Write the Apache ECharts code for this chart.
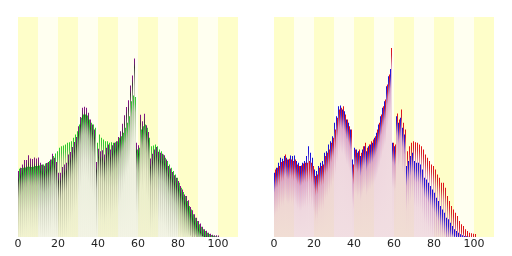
<!DOCTYPE html>
<html><head><meta charset="utf-8">
<script src="https://cdn.jsdelivr.net/npm/echarts@6/dist/echarts.min.js"></script>
<style>html,body{margin:0;padding:0;background:#fff}#c{width:512px;height:256px}</style>
</head><body><div id="c"></div>
<script>
// Ages 0..100 (one value per age)
const male = [193,208,223,238,235,243,238,233,245,243,
245,228,223,213,223,228,243,273,253,238,
203,198,213,223,228,253,258,278,288,303,
343,363,393,395,383,378,353,343,323,233,
268,263,258,243,263,273,258,273,278,283,
298,313,338,363,388,408,453,483,505,283,
273,363,343,358,328,308,213,228,243,253,
228,223,223,218,203,178,173,163,153,143,
133,118,108,93,83,73,58,53,43,33,
23,18,13,8,5,3,2,1,0,0,0];
const female = [203,208,213,225,228,248,233,235,233,228,
233,218,213,215,221,223,223,228,223,213,
183,188,208,213,218,243,253,263,283,298,
323,358,383,388,393,368,353,333,323,218,
263,253,263,253,273,283,268,278,288,293,
303,323,343,368,393,413,458,488,568,283,
278,371,353,383,343,323,258,273,283,288,
285,283,278,273,263,248,238,228,218,213,
203,188,178,163,163,148,123,108,93,83,
73,63,48,38,33,23,18,13,11,10,9];
// national profile scaled to the municipality total
const national = [410,414,416,418,422,422,420,422,426,426,
430,434,436,442,446,456,466,486,502,516,
536,546,550,556,566,570,576,596,616,636,
676,716,736,736,730,706,686,676,656,566,
616,596,586,576,576,566,570,566,570,576,
596,606,626,656,686,726,816,850,842,526,
536,646,666,676,656,596,546,550,556,546,
526,516,496,476,456,436,416,396,376,356,
326,296,270,246,216,186,166,136,116,96,
76,62,46,36,26,18,12,8,4,2,0];
const total = male.map((v, i) => v + female[i]);
const tickLabels = ['0','20','40','60','80','100'];

const PLOT_H = 220;
// gradient stops given in pixels from the bar top
function itemsWithGrad(arr, max, stopsPx) {
  return arr.map((v, i) => {
    const h = Math.max(v / max * PLOT_H, 0.5);
    const stops = stopsPx.map(s => ({offset: Math.min(s[0] / h, 1), color: s[1]}));
    return {value: [i + 0.5, v],
      itemStyle: {color: new echarts.graphic.LinearGradient(0, 0, 0, 1, stops)}};
  });
}

function xAxis(gi) {
  return {
    type: 'value', gridIndex: gi, min: 0, max: 110, interval: 10,
    axisLine: {show: false}, axisTick: {show: false},
    splitLine: {show: false},
    splitArea: {show: true, areaStyle: {color: ['#fefec9', '#fffff0']}},
    axisLabel: {
      margin: 2, fontSize: 11, color: '#222', fontFamily: 'DejaVu Sans',
      formatter: v => tickLabels.indexOf(String(v)) >= 0 ? String(v) : ''
    }
  };
}
function yAxis(gi, max) {
  return {type: 'value', gridIndex: gi, min: 0, max: max, show: false,
    splitLine: {show: false}};
}
function bars(gi, data) {
  return {type: 'bar', xAxisIndex: gi, yAxisIndex: gi, data: data,
    barWidth: 1, barGap: '0%', silent: true};
}
const LMAX = 1322, RMAX = 661;

const chart = echarts.init(document.getElementById('c'), null, {renderer: 'canvas'});
chart.setOption({
  animation: false,
  backgroundColor: '#ffffff',
  grid: [
    {left: 18, top: 17, width: 220, height: 220},
    {left: 274, top: 17, width: 220, height: 220}
  ],
  xAxis: [xAxis(0), xAxis(1)],
  yAxis: [yAxis(0, LMAX), yAxis(1, RMAX)],
  series: [
    bars(0, itemsWithGrad(total, LMAX, [[0, '#8a108a'], [5, '#702070'], [9, '#383834'], [28, 'rgba(150,155,135,0.65)'], [70, 'rgba(222,225,208,0.55)'], [300, 'rgba(228,230,214,0.5)']])),
    bars(0, itemsWithGrad(national, LMAX, [[0, '#28d028'], [7, '#40c040'], [16, 'rgba(140,185,120,0.75)'], [45, 'rgba(212,222,198,0.55)'], [300, 'rgba(228,230,214,0.45)']])),
    bars(1, itemsWithGrad(male, RMAX, [[0, '#1010e0'], [7, '#3020d0'], [20, 'rgba(205,150,200,0.85)'], [45, 'rgba(232,198,215,0.7)'], [300, 'rgba(234,204,218,0.65)']])),
    bars(1, itemsWithGrad(female, RMAX, [[0, '#e81010'], [7, '#d02030'], [20, 'rgba(220,150,185,0.85)'], [45, 'rgba(232,198,215,0.7)'], [300, 'rgba(234,204,218,0.65)']]))
  ]
});
</script></body></html>
